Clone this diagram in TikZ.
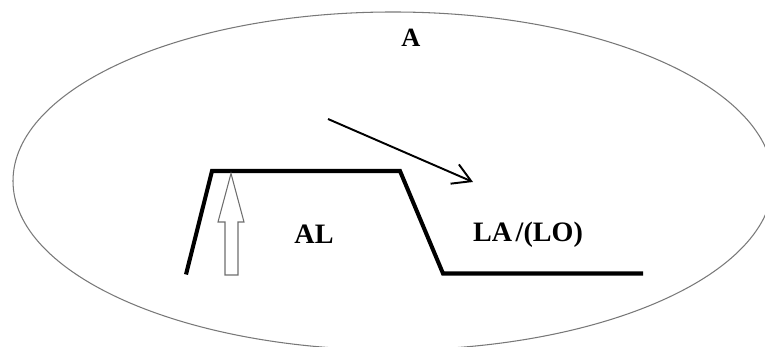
\documentclass[tikz,border=0pt]{standalone}
\usepackage{fontspec}
\setmainfont{Liberation Serif}
\usepackage{tikz}
\usetikzlibrary{arrows.meta,positioning,calc}
\definecolor{rimGray}{RGB}{120,120,120}
\definecolor{blkGray}{RGB}{110,110,110}

\begin{document}
\begin{tikzpicture}[
  rim/.style={draw=rimGray, line width=0.6pt},
  prof/.style={draw=black, line width=2.3pt, line join=miter},
  blk/.style={draw=blkGray, line width=0.6pt, fill=white},
  arr/.style={-{Straight Barb[length=3.6mm, width=4.2mm, line width=1.1pt]}, line width=1.1pt, black},
  lab/.style={font=\bfseries\fontsize{16}{18}\selectfont, inner sep=0pt},
  ttl/.style={font=\bfseries\fontsize{15}{17}\selectfont, inner sep=0pt}
]
  \useasboundingbox (0,0) rectangle (15.3,6.94);
  \clip (0,0) rectangle (15.3,6.94);

  % outer region
  \draw[rim] (7.86,3.32) ellipse [x radius=7.6, y radius=3.38];
  \node[ttl] (A) at (8.22,6.18) {A};

  % profile
  \coordinate (p1) at (3.72,1.45);
  \coordinate (p2) at (4.24,3.52);
  \coordinate (p3) at (8.00,3.52);
  \coordinate (p4) at (8.86,1.47);
  \coordinate (p5) at (12.86,1.47);
  \draw[prof] (p1) -- (p2) -- (p3) -- (p4) -- (p5);

  % block arrow
  \draw[blk] (4.62,3.47) -- (4.88,2.50) -- (4.76,2.50) -- (4.76,1.44)
    -- (4.50,1.44) -- (4.50,2.50) -- (4.36,2.50) -- cycle;

  % flow arrow
  \coordinate (flowS) at (6.56,4.56);
  \coordinate (flowE) at (9.46,3.30);
  \draw[arr] (flowS) -- (flowE);

  \node[lab] (AL) at (6.28,2.26) {AL};
  \node[lab] (LALO) at (10.56,2.24) {LA\kern2pt/(LO)};
\end{tikzpicture}
\end{document}
